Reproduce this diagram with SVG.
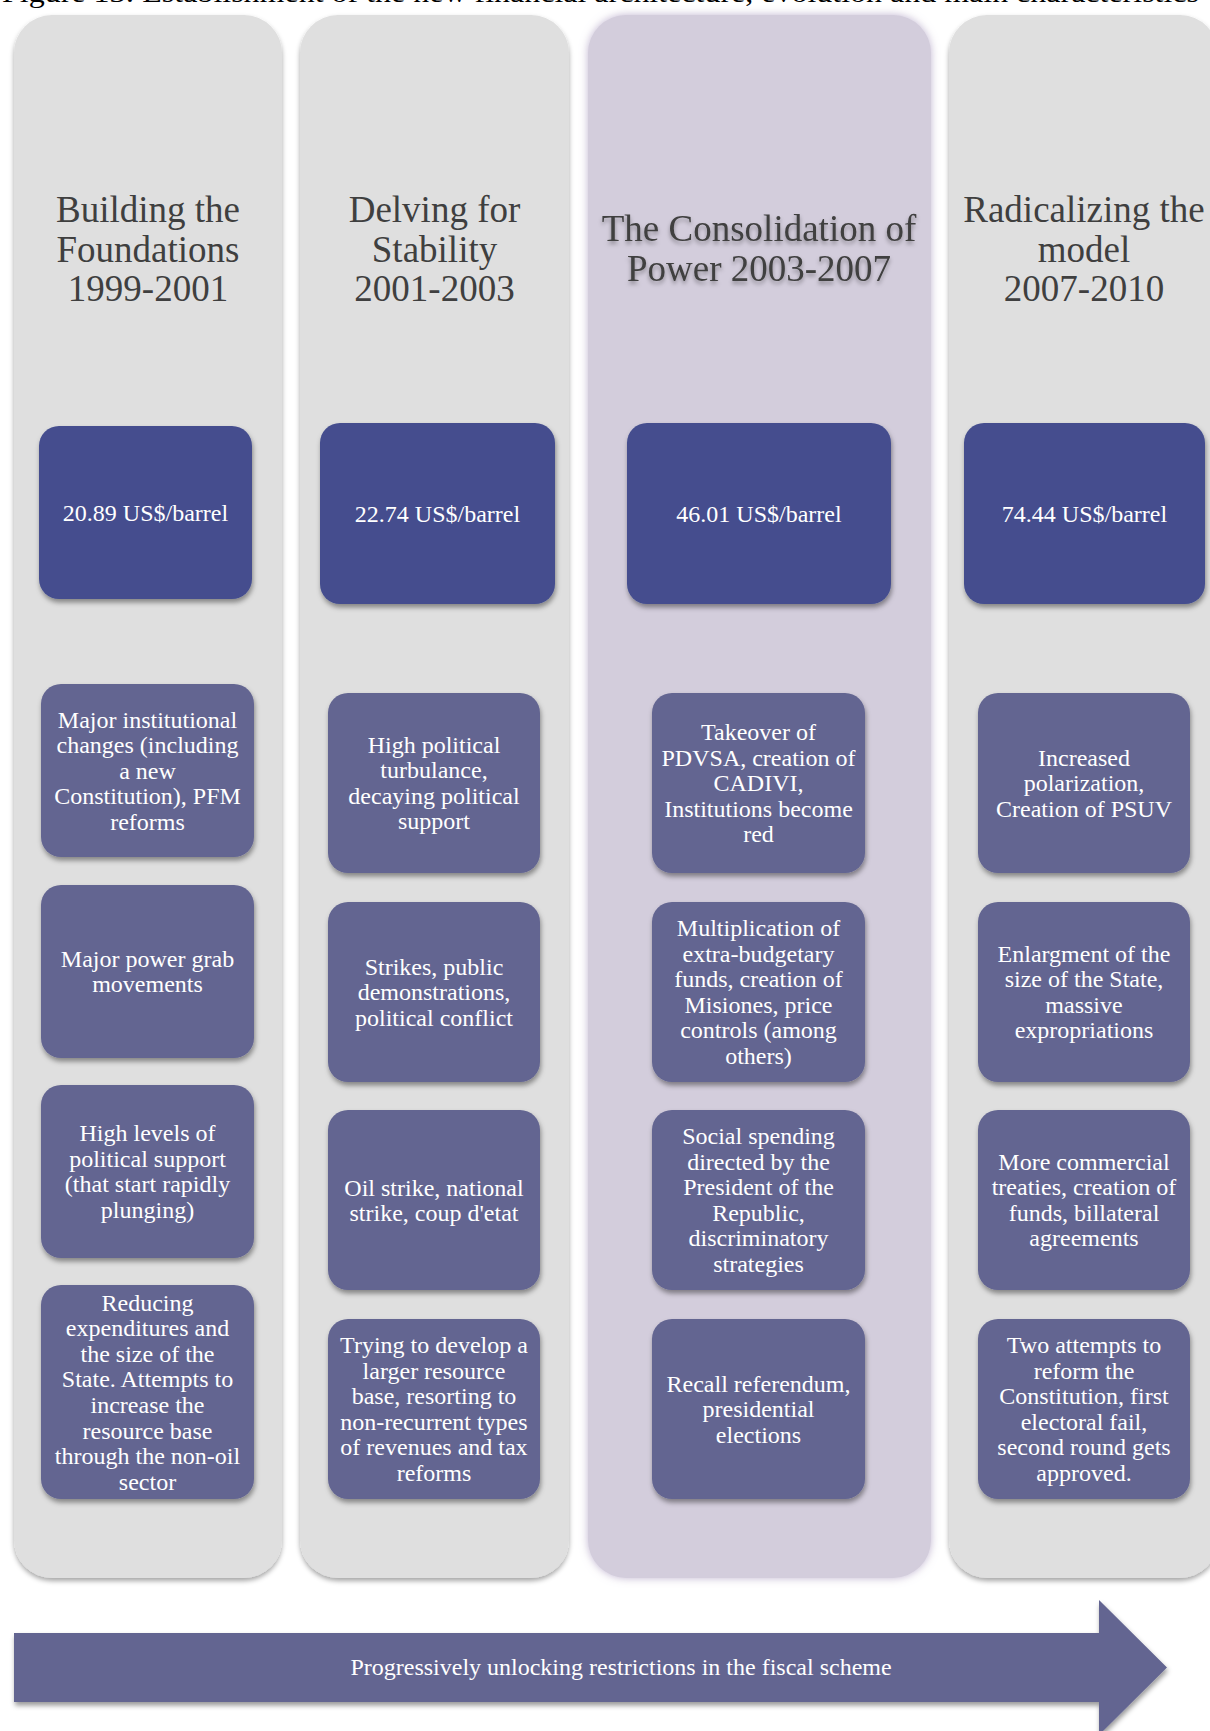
<svg xmlns="http://www.w3.org/2000/svg" width="1210" height="1731" viewBox="0 0 1210 1731">
<defs>
<filter id="colShadow" x="-10%" y="-5%" width="120%" height="110%">
<feDropShadow dx="0" dy="3" stdDeviation="2.5" flood-color="#000" flood-opacity="0.35"/>
</filter>
<filter id="glow" x="-10%" y="-5%" width="120%" height="110%">
<feDropShadow dx="0" dy="0" stdDeviation="4" flood-color="#B9ACCB" flood-opacity="0.9"/>
</filter>
<filter id="boxShadow" x="-10%" y="-10%" width="125%" height="130%">
<feDropShadow dx="1" dy="3.5" stdDeviation="2.5" flood-color="#000" flood-opacity="0.4"/>
</filter>
<filter id="textShadow" x="-10%" y="-20%" width="120%" height="160%">
<feDropShadow dx="0" dy="3" stdDeviation="2" flood-color="#000" flood-opacity="0.35"/>
</filter>
</defs>
<style>
.col{fill:#DFDFDF;filter:url(#colShadow);}
.col3{fill:#D3CDDC;filter:url(#glow);}
.price{fill:#444E8E;filter:url(#boxShadow);}
.item{fill:#636591;filter:url(#boxShadow);}
.title{font-family:"Liberation Serif","Times New Roman",serif;font-size:37px;fill:#3F3F3F;text-anchor:middle;}
.t{font-family:"Liberation Serif","Times New Roman",serif;font-size:24px;fill:#FFFFFF;text-anchor:middle;}
.cap{font-family:"Liberation Serif","Times New Roman",serif;font-size:28px;fill:#000;}
</style>
<rect width="1210" height="1731" fill="#FFFFFF"/>
<text class="cap" x="2" y="2" textLength="1197" lengthAdjust="spacingAndGlyphs">Figure 13: Establishment of the new financial architecture, evolution and main characteristics</text>

<g id="column-1">
<rect class="col" x="14" y="15" width="268" height="1563" rx="38"/>
<text class="title" x="148"><tspan x="148" y="222">Building the</tspan><tspan x="148" y="262">Foundations</tspan><tspan x="148" y="301">1999-2001</tspan></text>
</g>
<g id="column-2">
<rect class="col" x="300" y="15" width="269" height="1563" rx="38"/>
<text class="title" x="434.5"><tspan x="434.5" y="222">Delving for</tspan><tspan x="434.5" y="262">Stability</tspan><tspan x="434.5" y="301">2001-2003</tspan></text>
</g>
<g id="column-3">
<rect class="col3" x="588" y="15" width="343" height="1563" rx="38"/>
<text class="title" x="759" filter="url(#textShadow)"><tspan x="759" y="241">The Consolidation of</tspan><tspan x="759" y="281">Power 2003-2007</tspan></text>
</g>
<g id="column-4">
<rect class="col" x="949" y="15" width="269" height="1563" rx="38"/>
<text class="title" x="1084"><tspan x="1084" y="222">Radicalizing the</tspan><tspan x="1084" y="262">model</tspan><tspan x="1084" y="301">2007-2010</tspan></text>
</g>

<g id="price-1">
<rect class="price" x="39" y="426" width="213" height="173" rx="20"/>
<text class="t" x="145.5" y="520.5">20.89 US$/barrel</text>
</g>
<g id="price-2">
<rect class="price" x="320" y="423" width="235" height="181" rx="20"/>
<text class="t" x="437.5" y="521.5">22.74 US$/barrel</text>
</g>
<g id="price-3">
<rect class="price" x="627" y="423" width="264" height="181" rx="20"/>
<text class="t" x="759" y="521.5">46.01 US$/barrel</text>
</g>
<g id="price-4">
<rect class="price" x="964" y="423" width="241" height="181" rx="20"/>
<text class="t" x="1084.5" y="521.5">74.44 US$/barrel</text>
</g>

<g id="c1-item1">
<rect class="item" x="41" y="684" width="213" height="173" rx="20"/>
<text class="t"><tspan x="147.5" y="727.5">Major institutional</tspan><tspan x="147.5" y="753">changes (including</tspan><tspan x="147.5" y="778.5">a new</tspan><tspan x="147.5" y="804">Constitution), PFM</tspan><tspan x="147.5" y="829.5">reforms</tspan></text>
</g>
<g id="c1-item2">
<rect class="item" x="41" y="885" width="213" height="173" rx="20"/>
<text class="t"><tspan x="147.5" y="966.5">Major power grab</tspan><tspan x="147.5" y="992">movements</tspan></text>
</g>
<g id="c1-item3">
<rect class="item" x="41" y="1085" width="213" height="173" rx="20"/>
<text class="t"><tspan x="147.5" y="1141.3">High levels of</tspan><tspan x="147.5" y="1166.8">political support</tspan><tspan x="147.5" y="1192.3">(that start rapidly</tspan><tspan x="147.5" y="1217.8">plunging)</tspan></text>
</g>
<g id="c1-item4">
<rect class="item" x="41" y="1285" width="213" height="214" rx="20"/>
<text class="t"><tspan x="147.5" y="1310.5">Reducing</tspan><tspan x="147.5" y="1336.1">expenditures and</tspan><tspan x="147.5" y="1361.7">the size of the</tspan><tspan x="147.5" y="1387.3">State. Attempts to</tspan><tspan x="147.5" y="1412.9">increase the</tspan><tspan x="147.5" y="1438.5">resource base</tspan><tspan x="147.5" y="1464.1">through the non-oil</tspan><tspan x="147.5" y="1489.7">sector</tspan></text>
</g>

<g id="c2-item1">
<rect class="item" x="328" y="693" width="212" height="180" rx="20"/>
<text class="t"><tspan x="434" y="752.5">High political</tspan><tspan x="434" y="778">turbulance,</tspan><tspan x="434" y="803.5">decaying political</tspan><tspan x="434" y="829">support</tspan></text>
</g>
<g id="c2-item2">
<rect class="item" x="328" y="902" width="212" height="180" rx="20"/>
<text class="t"><tspan x="434" y="974.5">Strikes, public</tspan><tspan x="434" y="1000">demonstrations,</tspan><tspan x="434" y="1025.5">political conflict</tspan></text>
</g>
<g id="c2-item3">
<rect class="item" x="328" y="1110" width="212" height="180" rx="20"/>
<text class="t"><tspan x="434" y="1195.5">Oil strike, national</tspan><tspan x="434" y="1221">strike, coup d'etat</tspan></text>
</g>
<g id="c2-item4">
<rect class="item" x="328" y="1319" width="212" height="180" rx="20"/>
<text class="t"><tspan x="434" y="1353">Trying to develop a</tspan><tspan x="434" y="1378.5">larger resource</tspan><tspan x="434" y="1404">base, resorting to</tspan><tspan x="434" y="1429.5">non-recurrent types</tspan><tspan x="434" y="1455">of revenues and tax</tspan><tspan x="434" y="1480.5">reforms</tspan></text>
</g>

<g id="c3-item1">
<rect class="item" x="652" y="693" width="213" height="180" rx="20"/>
<text class="t"><tspan x="758.5" y="740">Takeover of</tspan><tspan x="758.5" y="765.5">PDVSA, creation of</tspan><tspan x="758.5" y="791">CADIVI,</tspan><tspan x="758.5" y="816.5">Institutions become</tspan><tspan x="758.5" y="842">red</tspan></text>
</g>
<g id="c3-item2">
<rect class="item" x="652" y="902" width="213" height="180" rx="20"/>
<text class="t"><tspan x="758.5" y="936">Multiplication of</tspan><tspan x="758.5" y="961.5">extra-budgetary</tspan><tspan x="758.5" y="987">funds, creation of</tspan><tspan x="758.5" y="1012.5">Misiones, price</tspan><tspan x="758.5" y="1038">controls (among</tspan><tspan x="758.5" y="1063.5">others)</tspan></text>
</g>
<g id="c3-item3">
<rect class="item" x="652" y="1110" width="213" height="180" rx="20"/>
<text class="t"><tspan x="758.5" y="1144">Social spending</tspan><tspan x="758.5" y="1169.5">directed by the</tspan><tspan x="758.5" y="1195">President of the</tspan><tspan x="758.5" y="1220.5">Republic,</tspan><tspan x="758.5" y="1246">discriminatory</tspan><tspan x="758.5" y="1271.5">strategies</tspan></text>
</g>
<g id="c3-item4">
<rect class="item" x="652" y="1319" width="213" height="180" rx="20"/>
<text class="t"><tspan x="758.5" y="1391.5">Recall referendum,</tspan><tspan x="758.5" y="1417">presidential</tspan><tspan x="758.5" y="1442.5">elections</tspan></text>
</g>

<g id="c4-item1">
<rect class="item" x="978" y="693" width="212" height="180" rx="20"/>
<text class="t"><tspan x="1084" y="765.5">Increased</tspan><tspan x="1084" y="791">polarization,</tspan><tspan x="1084" y="816.5">Creation of PSUV</tspan></text>
</g>
<g id="c4-item2">
<rect class="item" x="978" y="902" width="212" height="180" rx="20"/>
<text class="t"><tspan x="1084" y="961.5">Enlargment of the</tspan><tspan x="1084" y="987">size of the State,</tspan><tspan x="1084" y="1012.5">massive</tspan><tspan x="1084" y="1038">expropriations</tspan></text>
</g>
<g id="c4-item3">
<rect class="item" x="978" y="1110" width="212" height="180" rx="20"/>
<text class="t"><tspan x="1084" y="1169.5">More commercial</tspan><tspan x="1084" y="1195">treaties, creation of</tspan><tspan x="1084" y="1220.5">funds, billateral</tspan><tspan x="1084" y="1246">agreements</tspan></text>
</g>
<g id="c4-item4">
<rect class="item" x="978" y="1319" width="212" height="180" rx="20"/>
<text class="t"><tspan x="1084" y="1353">Two attempts to</tspan><tspan x="1084" y="1378.5">reform the</tspan><tspan x="1084" y="1404">Constitution, first</tspan><tspan x="1084" y="1429.5">electoral fail,</tspan><tspan x="1084" y="1455">second round gets</tspan><tspan x="1084" y="1480.5">approved.</tspan></text>
</g>

<g id="connectors">
<g id="timeline-arrow">
<polygon points="14,1633 1099,1633 1099,1600 1167,1667.5 1099,1735 1099,1702 14,1702" fill="#636591" filter="url(#boxShadow)"/>
<text class="t" x="621" y="1675">Progressively unlocking restrictions in the fiscal scheme</text>
</g>
</g>
</svg>
